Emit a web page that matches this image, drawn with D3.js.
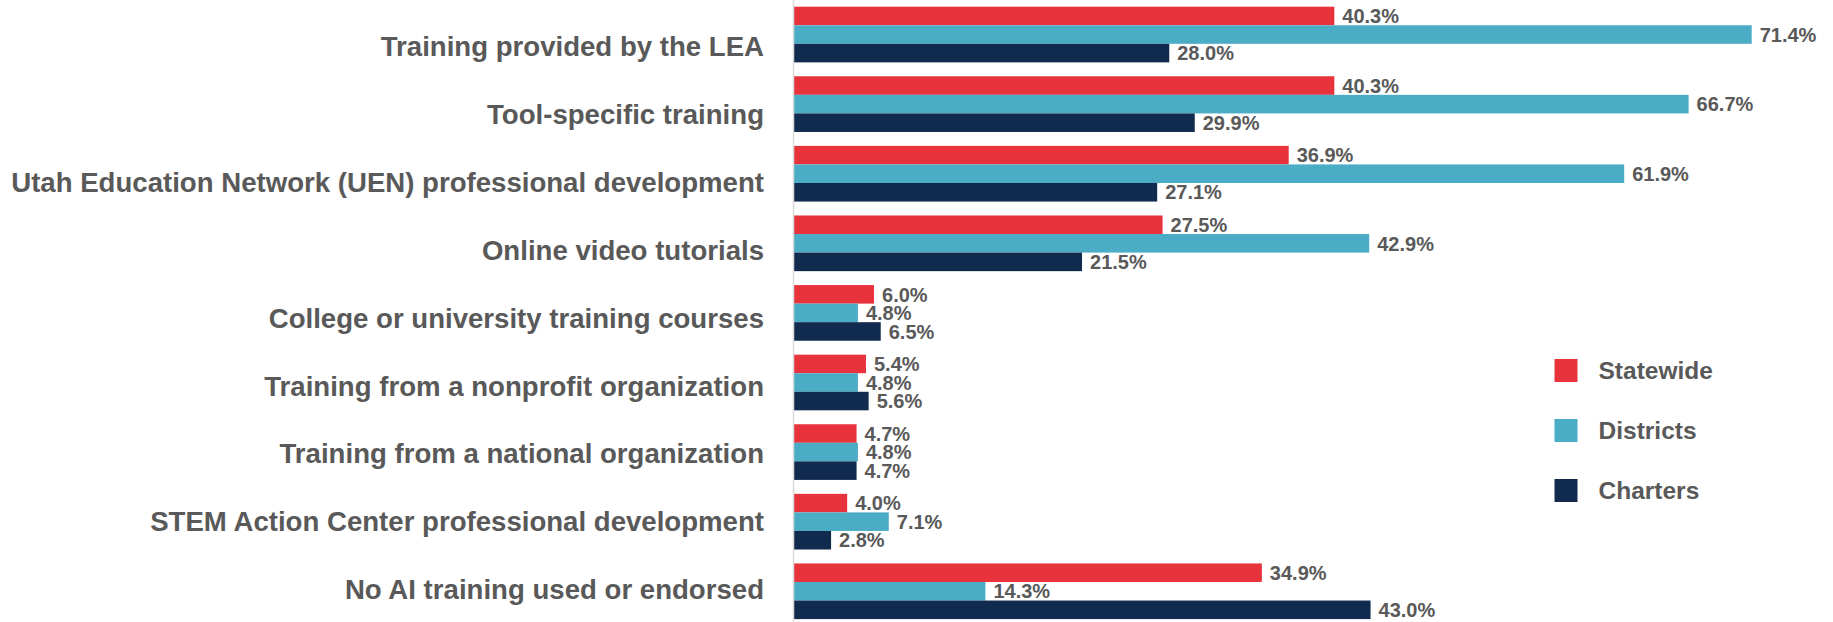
<!DOCTYPE html>
<html>
<head>
<meta charset="utf-8">
<script src="https://cdn.jsdelivr.net/npm/d3@7"></script>
<style>
    body { margin: 0; background: #fff; }
    text { font-family: "Liberation Sans", Arial, sans-serif; font-weight: bold; fill: #595959; }
</style>
</head>
<body>
<script>
(function(){

    //chart data
    var categories = [
        "Training provided by the LEA",
        "Tool-specific training",
        "Utah Education Network (UEN) professional development",
        "Online video tutorials",
        "College or university training courses",
        "Training from a nonprofit organization",
        "Training from a national organization",
        "STEM Action Center professional development",
        "No AI training used or endorsed"
    ];
    var seriesNames = ["Statewide", "Districts", "Charters"];
    var statewide = [40.3, 40.3, 36.9, 27.5, 6.0, 5.4, 4.7, 4.0, 34.9];
    var districts = [71.4, 66.7, 61.9, 42.9, 4.8, 4.8, 4.8, 7.1, 14.3];
    var charters  = [28.0, 29.9, 27.1, 21.5, 6.5, 5.6, 4.7, 2.8, 43.0];

    var colors = ["#E8333D", "#4BACC6", "#112B4F"];

    //frame dimensions
    var width = 1833,
        height = 622,
        axisX = 793.5,
        pxPerPct = 13.42;

    var svg = d3.select("body")
        .append("svg")
        .attr("width", width)
        .attr("height", height);

    //scales
    var x = d3.scaleLinear()
        .domain([0, 80])
        .range([axisX, axisX + 80 * pxPerPct]);

    var y = d3.scaleBand()
        .domain(categories)
        .range([6.7, 619.1])
        .paddingInner(0.2)
        .paddingOuter(0);

    var ySub = d3.scaleBand()
        .domain(seriesNames)
        .range([0, y.bandwidth()]);

    //category labels sit on their own slightly tighter spacing
    var yLabel = d3.scalePoint()
        .domain(categories)
        .range([46, 588.5]);

    var color = d3.scaleOrdinal()
        .domain(seriesNames)
        .range(colors);

    //build rows from the arrays
    var rows = categories.map(function(c, i){
        return {
            category: c,
            values: [
                {series: "Statewide", value: statewide[i]},
                {series: "Districts", value: districts[i]},
                {series: "Charters", value: charters[i]}
            ]
        };
    });

    //groups
    var groups = svg.selectAll(".group")
        .data(rows)
        .enter()
        .append("g")
        .attr("class", "group")
        .attr("transform", function(d){
            return "translate(0," + y(d.category) + ")";
        });

    //bars
    groups.selectAll("rect")
        .data(function(d){ return d.values; })
        .enter()
        .append("rect")
        .attr("x", x(0))
        .attr("y", function(d){ return ySub(d.series); })
        .attr("width", function(d){ return x(d.value) - x(0); })
        .attr("height", ySub.bandwidth())
        .style("fill", function(d){ return color(d.series); });

    //value labels
    groups.selectAll(".value")
        .data(function(d){ return d.values; })
        .enter()
        .append("text")
        .attr("class", "value")
        .attr("x", function(d){ return x(d.value) + 8; })
        .attr("y", function(d){ return ySub(d.series) + ySub.bandwidth() / 2; })
        .attr("dy", "0.36em")
        .style("font-size", "20px")
        .text(function(d){ return d.value.toFixed(1) + "%"; });

    //vertical axis line
    svg.append("line")
        .attr("x1", x(0))
        .attr("x2", x(0))
        .attr("y1", 0)
        .attr("y2", height)
        .style("stroke", "#d9d9d9")
        .style("stroke-width", 1.5);

    //category axis
    var yAxis = d3.axisLeft(yLabel)
        .tickSize(0)
        .tickPadding(29.5);

    var axis = svg.append("g")
        .attr("class", "axis")
        .attr("transform", "translate(" + x(0) + ",0)")
        .call(yAxis);

    axis.select(".domain").remove();
    axis.selectAll("text")
        .attr("dy", "0.36em")
        .style("font-size", "27.6px")
        .style("font-family", "'Liberation Sans', Arial, sans-serif")
        .style("fill", "#595959");

    //legend
    var legendY = d3.scalePoint()
        .domain(seriesNames)
        .range([370.5, 490.5]);

    var legend = svg.selectAll(".legend")
        .data(seriesNames)
        .enter()
        .append("g")
        .attr("class", "legend")
        .attr("transform", function(d){
            return "translate(1554.5," + legendY(d) + ")";
        });

    legend.append("rect")
        .attr("x", 0)
        .attr("y", -11.5)
        .attr("width", 23)
        .attr("height", 23)
        .style("fill", function(d){ return color(d); });

    legend.append("text")
        .attr("x", 44)
        .attr("y", 0)
        .attr("dy", "0.36em")
        .style("font-size", "24.5px")
        .text(function(d){ return d; });

})();
</script>
</body>
</html>
